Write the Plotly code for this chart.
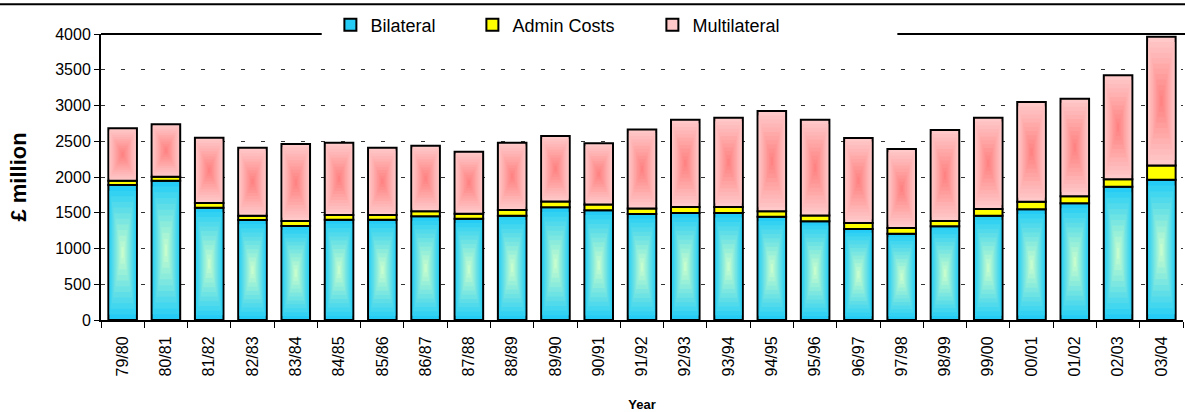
import numpy as np
import plotly.graph_objects as go

years = ["79/80", "80/81", "81/82", "82/83", "83/84", "84/85", "85/86", "86/87",
         "87/88", "88/89", "89/90", "90/91", "91/92", "92/93", "93/94", "94/95",
         "95/96", "96/97", "97/98", "98/99", "99/00", "00/01", "01/02", "02/03", "03/04"]
bilateral = [1888, 1949, 1571, 1399, 1315, 1403, 1403, 1450, 1417, 1459, 1576, 1534, 1483,
             1497, 1497, 1445, 1380, 1273, 1207, 1310, 1459, 1548, 1632, 1865, 1962]
admin_costs = [60, 55, 65, 60, 70, 65, 65, 70, 70, 80, 80, 80, 75,
               85, 85, 75, 80, 85, 80, 75, 95, 105, 100, 105, 200]
multilateral = [733, 733, 914, 951, 1076, 1012, 942, 918, 867, 941, 917, 857, 1107,
                1220, 1248, 1403, 1342, 1187, 1105, 1272, 1276, 1396, 1364, 1452, 1801]

FONT = "Arial, Liberation Sans, sans-serif"
BAR_W = 0.66
N_LAYERS = 12

bil = np.array(bilateral, dtype=float)
adm = np.array(admin_costs, dtype=float)
mul = np.array(multilateral, dtype=float)


def lerp(c1, c2, t):
    return "rgb({},{},{})".format(*[int(round(a + (b - a) * t)) for a, b in zip(c1, c2)])


series = [
    ("Bilateral", np.zeros_like(bil), bil, (30, 203, 248), (204, 255, 204), 97),
    ("Admin Costs", bil, adm, (255, 255, 0), (255, 255, 0), 135),
    ("Multilateral", bil + adm, mul, (255, 204, 204), (255, 128, 128), 95),
]

fig = go.Figure()
for name, base, h, edge, center, lw in series:
    fig.add_trace(go.Bar(
        x=years, y=h, base=base, width=BAR_W, name=name, legendgroup=name,
        legendwidth=lw,
        marker=dict(color=lerp(edge, center, 0.5 / N_LAYERS), line=dict(color="black", width=2)),
        hoverinfo="skip",
    ))
    if edge != center:
        for k in range(1, N_LAYERS):
            u = 1 - k / N_LAYERS
            fig.add_trace(go.Bar(
                x=years, y=h * u, base=base + h * (1 - u) / 2, width=BAR_W * u,
                marker=dict(color=lerp(edge, center, (k + 0.5) / N_LAYERS), line=dict(width=0)),
                showlegend=False, legendgroup=name, hoverinfo="skip",
            ))

# top border segments of plot area and page rule
fig.add_shape(type="line", xref="paper", yref="paper", x0=0, x1=0.204, y0=1, y1=1,
              line=dict(color="black", width=2))
fig.add_shape(type="line", xref="paper", yref="paper", x0=0.736, x1=1.002, y0=1, y1=1,
              line=dict(color="black", width=2))
fig.add_shape(type="line", xref="paper", yref="paper", x0=-0.094, x1=1.002, y0=1.104, y1=1.104,
              line=dict(color="black", width=2))

fig.update_layout(
    width=1185, height=412, autosize=False,
    margin=dict(l=101, r=2, t=34, b=92),
    paper_bgcolor="white", plot_bgcolor="white",
    barmode="overlay",
    font=dict(family=FONT, color="black"),
    showlegend=True,
    legend=dict(orientation="h", x=0.212, xanchor="left", y=1.031, yanchor="middle",
                bgcolor="rgba(0,0,0,0)", font=dict(size=18, family=FONT), traceorder="normal"),
)
fig.update_yaxes(
    range=[0, 4000], dtick=500, tickfont=dict(size=16, family=FONT), automargin=False,
    showline=True, linecolor="black", linewidth=2, ticks="outside", ticklen=5,
    tickcolor="black", tickwidth=1,
    showgrid=True, gridcolor="#333333", gridwidth=1, griddash="4px,16px", zeroline=False,
    title=dict(text="<b>£ million</b>", font=dict(size=22, family=FONT), standoff=23),
)
fig.update_xaxes(
    tickangle=-90, tickfont=dict(size=16, family=FONT), tickson="boundaries", automargin=False,
    showline=True, linecolor="black", linewidth=2, ticks="outside", ticklen=6,
    tickcolor="black", tickwidth=1, showgrid=False, ticklabelstandoff=8,
    title=dict(text="<b>Year</b>", font=dict(size=13, family=FONT), standoff=30),
)

fig.write_html("out.html", config={"displayModeBar": False},
               post_script="document.body.style.margin='0';")
